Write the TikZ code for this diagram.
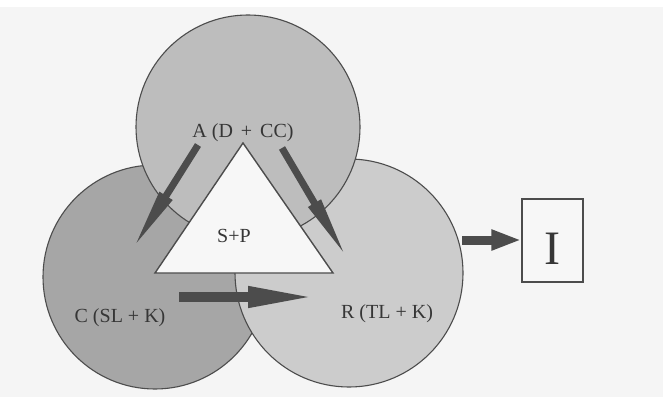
\documentclass[tikz,border=0pt]{standalone}
\usepackage{fontspec}
\setmainfont{Liberation Serif}
\usetikzlibrary{arrows.meta}
\definecolor{paper}{gray}{0.96}
\definecolor{cfill}{gray}{0.65}
\definecolor{afill}{gray}{0.74}
\definecolor{rfill}{gray}{0.80}
\definecolor{ink}{gray}{0.30}
\begin{document}
\begin{tikzpicture}[x=1pt,y=1pt,font=\fontsize{20}{22}\selectfont,text=ink!70!black,
  blob/.style={circle,draw=ink,line width=1.1pt,minimum size=#1,inner sep=0pt},
  fatarrow/.style={draw=ink,line width=#1}]
\fill[paper] (0,0) rectangle (663,397);
\fill[white] (0,390) rectangle (663,397);
\useasboundingbox (0,0) rectangle (663,397);
\node[blob=224pt,fill=cfill] (C) at (155,120) {};
\node[blob=228pt,fill=rfill] (R) at (349,124) {};
\node[blob=224pt,fill=afill] (A) at (248,270) {};
\coordinate (top) at (243,254);\coordinate (bl) at (155,124);\coordinate (br) at (333,124);
\draw[ink,line width=1.4pt,fill=white!97!black] (top)--(bl)--(br)--cycle;
\node[anchor=base] (lblA) at (243,260) {A (D\hspace{3pt} + \hspace{3pt}CC)};
\node[anchor=base] (lblS) at (234,155) {S+P};
\node[anchor=base] (lblC) at (120,75) {C (SL + K)};
\node[anchor=base] (lblR) at (387,79) {R (TL + K)};
\node[draw=ink,line width=1.1pt,fill=white!97!black,minimum width=61pt,minimum height=83pt,inner sep=0pt] (I) at (552.5,156.5) {\fontsize{48}{48}\selectfont\raisebox{-8pt}[32pt][0pt]{I}};
\coordinate (a1) at (198,252);\coordinate (c1) at (132,147);
\coordinate (a2) at (282,249);\coordinate (r1) at (348,137);
\coordinate (c2) at (179,100);\coordinate (r2) at (318,100);
\coordinate (r3) at (462,157);
\draw[fatarrow=7pt,-{Triangle[length=64pt,width=13.5pt]}] (a1)--(c1);
\draw[fatarrow=7pt,-{Triangle[length=66pt,width=13pt]}] (a2)--(r1);
\draw[fatarrow=10pt,-{Triangle[length=70pt,width=19pt]}] (c2)--(r2);
\draw[fatarrow=9pt,-{Triangle[length=30pt,width=19pt]}] (r3)--(r3-|I.west);
\end{tikzpicture}
\end{document}
